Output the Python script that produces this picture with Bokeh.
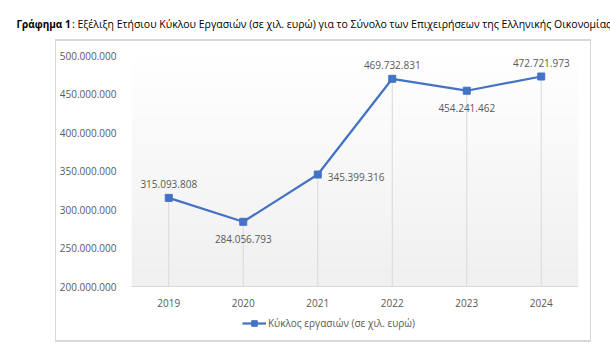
from bokeh.plotting import figure
from bokeh.models import (Range1d, FixedTicker, Label, Legend, LegendItem,
                          ColumnDataSource, Spacer)
from bokeh.layouts import column, row
from bokeh.core.properties import value
from bokeh.embed import file_html
from bokeh.resources import INLINE
import numpy as np

# ---- data ----
years = [2019, 2020, 2021, 2022, 2023, 2024]
turnover = [315093808, 284056793, 345399316, 469732831, 454241462, 472721973]
y_ticks = [200000000, 250000000, 300000000, 350000000, 400000000, 450000000, 500000000]
series_name = "Κύκλος εργασιών (σε χιλ. ευρώ)"
title_bold = "Γράφημα 1"
title_rest = (": Εξέλιξη Ετήσιου Κύκλου Εργασιών (σε χιλ. ευρώ) για το Σύνολο "
              "των Επιχειρήσεων της Ελληνικής Οικονομίας")
label_pos = ["above", "below", "right", "above", "below", "above"]

FONT = "Open Sans"
TXT = "#595959"
BLUE = "#4472C4"
BORDER = "#d9d9d9"

def fmt(v):
    return f"{v:,}".replace(",", ".")

# ---- title strip ----
tf = figure(width=610, height=41, x_range=Range1d(0, 610), y_range=Range1d(0, 41),
            toolbar_location=None, output_backend="svg", min_border=0)
tf.axis.visible = False
tf.grid.visible = False
tf.outline_line_color = None
tf.add_layout(Label(x=16, y=18, text=title_bold, text_font=FONT, text_font_size="10px",
                    text_font_style="bold", text_baseline="middle", text_color="#000000"))
tf.add_layout(Label(x=71.5, y=18, text=title_rest, text_font=FONT, text_font_size="10.5px",
                    text_baseline="middle", text_color="#000000"))

# ---- main chart ----
y0, y1 = y_ticks[0], y_ticks[-1]
x0, x1 = years[0] - 0.5, years[-1] + 0.5
p = figure(width=534, height=270, x_range=Range1d(x0, x1), y_range=Range1d(y0, y1),
           toolbar_location=None, output_backend="svg",
           min_border_left=75, min_border_right=12, min_border_top=14, min_border_bottom=25)
# frame: top + sides only (no line at the joint with the legend strip)
p.styles = {"box-shadow": f"0 -1px 0 1px {BORDER}"}
p.outline_line_color = None
p.grid.visible = False

# gradient plot-area background
n = 64
g = np.linspace(240, 255, n).astype(np.uint32)
img = np.zeros((n, 1), dtype=np.uint32)
img[:, 0] = (255 << 24) | (g << 16) | (g << 8) | g
p.image_rgba(image=[img], x=x0, y=y0, dw=x1 - x0, dh=y1 - y0)

# drop lines
p.segment(x0=years, y0=[y0] * len(years), x1=years, y1=turnover,
          line_color=BORDER, line_width=1)

p.line(years, turnover, line_color=BLUE, line_width=2.25)
p.scatter(years, turnover, marker="square", size=7, fill_color=BLUE, line_color=BLUE)

# data labels
offs = {"above": (0, -14, "center"), "below": (0, 17, "center"), "right": (10, 2, "left")}
src = ColumnDataSource(dict(
    x=years, y=turnover, t=[fmt(v) for v in turnover],
    xo=[offs[k][0] for k in label_pos], yo=[offs[k][1] for k in label_pos],
    al=[offs[k][2] for k in label_pos]))
p.text(x="x", y="y", text="t", x_offset="xo", y_offset="yo", text_align="al",
       text_baseline="middle", source=src, text_font=value(FONT),
       text_font_size="10px", text_color=TXT)

# axes
p.yaxis.ticker = FixedTicker(ticks=y_ticks)
p.yaxis.major_label_overrides = {v: fmt(v) for v in y_ticks}
p.xaxis.ticker = FixedTicker(ticks=years)
for ax in (p.xaxis, p.yaxis):
    ax.major_tick_line_color = None
    ax.minor_tick_line_color = None
    ax.major_label_text_font = FONT
    ax.major_label_text_font_size = "10px"
    ax.major_label_text_color = TXT
p.yaxis.axis_line_color = None
p.yaxis.major_label_standoff = 9
p.xaxis.axis_line_color = BORDER
p.xaxis.major_label_standoff = 6

# ---- legend strip (bottom of the same bordered box) ----
lf = figure(width=534, height=29, x_range=Range1d(0, 534), y_range=Range1d(0, 29),
            toolbar_location=None, output_backend="svg", min_border=0)
lf.styles = {"box-shadow": f"0 1px 0 1px {BORDER}"}
lf.axis.visible = False
lf.grid.visible = False
lf.outline_line_color = None
# legend-key renderers: one point placed outside the strip's visible range
lg_line = lf.line(x=[-50, -40], y=[-50, -50], line_color=BLUE, line_width=2.25)
lg_mark = lf.scatter(x=[-50], y=[-50], marker="square", size=7,
                     fill_color=BLUE, line_color=BLUE)
legend = Legend(items=[LegendItem(label=series_name, renderers=[lg_line, lg_mark])],
                orientation="horizontal", location=(186, 10),
                label_text_font=FONT, label_text_font_size="10px", label_text_color=TXT,
                glyph_width=24, glyph_height=14, label_height=14, label_standoff=2,
                padding=0, margin=0, spacing=0,
                border_line_color=None, background_fill_alpha=0)
lf.add_layout(legend, "center")

layout = column(tf, row(Spacer(width=56), p), row(Spacer(width=56), lf))
open("out.html", "w").write(file_html(layout, INLINE))
